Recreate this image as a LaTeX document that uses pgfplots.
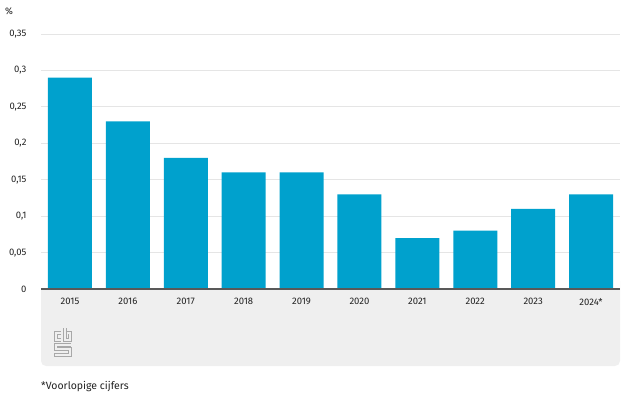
\documentclass[border=0pt]{standalone}
\usepackage{pgfplots}
\pgfplotsset{compat=1.18}
\usepackage{fontspec}
\setmainfont{Fira Sans}
\definecolor{cbsblue}{HTML}{00A1CD}
\definecolor{boxgray}{HTML}{EFEFEF}
\definecolor{txt}{HTML}{222222}
\definecolor{logo}{HTML}{A8A8A8}

\begin{document}
\begin{tikzpicture}[x=1pt,y=1pt]
  \path[use as bounding box] (0,0) rectangle (624,416);
  % grey strip under the axis
  \fill[boxgray, rounded corners=5pt] (41,50) rectangle (620,140);
  \fill[boxgray] (41,110) rectangle (620,127);
  \fill[white] (41,127) rectangle (620,141);
  % logo
  \begin{scope}[logo, line width=0.9pt]
    \draw (61,85) -- (54,85) -- (54,75) -- (61,75);
    \draw (61,82) -- (57,82) -- (57,78) -- (61,78);
    \draw (63,88) -- (63,75) -- (71,75) -- (71,85) -- (66,85);
    \draw (66,88) -- (66,78) -- (68,78) -- (68,82);
    \draw (71,73) -- (54,73) -- (54,66) -- (68,66) -- (68,63) -- (54,63) -- (54,60) -- (71,60) -- (71,69) -- (57,69) -- (57,70) -- (71,70);
  \end{scope}
  \begin{axis}[
    at={(41pt,127pt)}, anchor=south west,
    scale only axis,
    width=579pt, height=255pt,
    xmin=-0.5, xmax=9.5,
    ymin=0, ymax=0.35,
    ytick={0,0.05,...,0.35},
    yticklabels={0,{0,05},{0,1},{0,15},{0,2},{0,25},{0,3},{0,35}},
    xtick={0,...,9},
    xticklabels={2015,2016,2017,2018,2019,2020,2021,2022,2023,2024*},
    axis line style={draw=none},
    ymajorgrids,
    grid style={draw=black!10, line width=0.8pt},
    major tick length=0pt,
    tick label style={font=\fontsize{9.5}{10}\selectfont, text=txt},
    yticklabel style={xshift=-11pt},
    xticklabel style={yshift=-6pt},
    /pgf/number format/assume math mode=true,
    ybar, bar width=44pt,
    clip=false,
  ]
    \addplot[fill=cbsblue, draw=none] coordinates {
      (0,0.29) (1,0.23) (2,0.18) (3,0.16) (4,0.16)
      (5,0.13) (6,0.07) (7,0.08) (8,0.11) (9,0.13)
    };
    \draw[black!65, line width=1.6pt] (axis cs:-0.5,0) -- (axis cs:9.5,0);
  \end{axis}
  \node[anchor=base west, font=\fontsize{9.5}{10}\selectfont, text=txt, inner sep=0pt] at (5,401) {\%};
  \node[anchor=base west, font=\fontsize{10.5}{12}\selectfont, text=txt, inner sep=0pt] at (41,27) {*Voorlopige cijfers};
\end{tikzpicture}
\end{document}
